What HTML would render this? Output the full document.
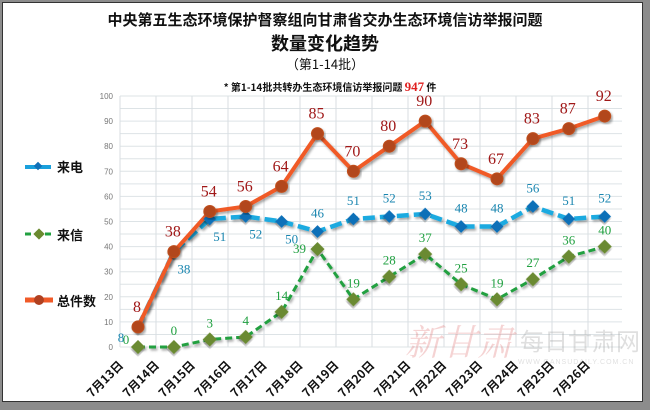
<!DOCTYPE html>
<html><head><meta charset="utf-8"><style>
html,body{margin:0;padding:0;}
body{width:650px;height:410px;background:#8c8c8c;position:relative;overflow:hidden;font-family:"Liberation Sans","Noto Sans CJK SC",sans-serif;}
#panel{position:absolute;left:2px;top:2px;width:641px;height:400px;background:#fff;border:1px solid #333;box-sizing:border-box;}
</style></head><body>
<div id="panel"></div>
<svg id="chart" width="650" height="410" style="position:absolute;left:0;top:0" font-family="Liberation Sans, Noto Sans CJK SC, sans-serif">
<defs><filter id="sh" x="-10%" y="-10%" width="130%" height="130%"><feDropShadow dx="1.5" dy="2" stdDeviation="1.2" flood-color="#000" flood-opacity="0.35"/></filter></defs>
<text x="325" y="25" text-anchor="middle" font-size="15" font-weight="bold" fill="#111" font-family="Noto Sans CJK SC, sans-serif">中央第五生态环境保护督察组向甘肃省交办生态环境信访举报问题</text>
<text x="325" y="50" text-anchor="middle" font-size="18" font-weight="bold" fill="#111" font-family="Noto Sans CJK SC, sans-serif">数量变化趋势</text>
<text x="325" y="69" text-anchor="middle" font-size="13" fill="#111" font-family="Noto Sans CJK SC, sans-serif">（第1-14批）</text>
<text x="330" y="91" text-anchor="middle" font-size="10" font-weight="bold" fill="#111" font-family="Noto Sans CJK SC, sans-serif">* 第1-14批共转办生态环境信访举报问题 <tspan fill="#e02020" font-size="13" font-family="Liberation Serif, serif">947</tspan> 件</text>
<g id="grid"></g>
<g id="yaxis"></g>
<g id="xaxis"></g>
<g opacity="0.3">
<text x="405" y="355" font-size="36" fill="#e07070" font-family="Noto Serif CJK SC, serif" font-style="italic">新甘肃</text>
<text x="520" y="350" font-size="24" fill="#999" font-family="Noto Sans CJK SC, sans-serif">每日甘肃网</text>
<text x="518" y="364" font-size="7" fill="#999" letter-spacing="1">WWW.GANSUDAILY.COM.CN</text>
</g>
<g id="series"></g>
<g>
<g>
<line x1="25" y1="167" x2="51" y2="167" stroke="#1aa0dc" stroke-width="4"/>
<rect x="35" y="163" width="6" height="6" fill="#1070b8" transform="rotate(45 38 166)"/>
<text x="57" y="172" font-size="13" font-weight="bold" fill="#111" font-family="Noto Sans CJK SC, sans-serif">来电</text></g>
<g>
<line x1="25" y1="234" x2="53" y2="234" stroke="#22a040" stroke-width="3" stroke-dasharray="6,4"/>
<rect x="35" y="230" width="8" height="8" fill="#6b8a30" transform="rotate(45 39 234)"/>
<text x="57" y="240" font-size="13" font-weight="bold" fill="#111" font-family="Noto Sans CJK SC, sans-serif">来信</text></g>
<g>
<line x1="25" y1="300" x2="53" y2="300" stroke="#f05a28" stroke-width="5"/>
<circle cx="39" cy="300" r="5" fill="#b04020"/>
<text x="57" y="306" font-size="13" font-weight="bold" fill="#111" font-family="Noto Sans CJK SC, sans-serif">总件数</text></g>
</g>
</svg>
<script>
const categories=["7月13日","7月14日","7月15日","7月16日","7月17日","7月18日","7月19日","7月20日","7月21日","7月22日","7月23日","7月24日","7月25日","7月26日"];
const totalValues=[8,38,54,56,64,85,70,80,90,73,67,83,87,92];
const callValues=[8,38,51,52,50,46,51,52,53,48,48,56,51,52];
const letterValues=[0,0,3,4,14,39,19,28,37,25,19,27,36,40];
const yTicks=[0,10,20,30,40,50,60,70,80,90,100];
const NS="http://www.w3.org/2000/svg";
const x0=138,dx=35.9,yBase=347,yTop=96,yMax=100;
const xs=i=>x0+dx*i;
const ys=v=>yBase-(yBase-yTop)*v/yMax;
function mk(tag,attrs,parent){const e=document.createElementNS(NS,tag);for(const k in attrs)e.setAttribute(k,attrs[k]);parent.appendChild(e);return e;}
const grid=document.getElementById('grid'),yaxis=document.getElementById('yaxis'),xaxis=document.getElementById('xaxis'),series=document.getElementById('series');
const gl=120,gr=622;
mk('rect',{x:gl,y:yTop,width:gr-gl,height:yBase-yTop,fill:'#fff'},grid);
for(let v=0;v<=100;v+=5){const l=mk('line',{x1:gl,x2:gr,y1:ys(v),y2:ys(v),stroke:'#dde3e6','stroke-width':1},grid);

}
for(let i=0;i<=14;i++){const x=gl+36*i;if(x>gr)break;const l=mk('line',{x1:x,x2:x,y1:yTop,y2:yBase,stroke:'#d8dee2','stroke-width':1},grid);

}
yTicks.forEach(v=>{const t=mk('text',{x:113,y:ys(v)+3,'text-anchor':'end','font-size':8,fill:'#777'},yaxis);t.textContent=v;

});
categories.forEach((c,i)=>{const x=xs(i)-14,y=366;const t=mk('text',{x:x,y:y,'text-anchor':'end','font-size':12,'font-weight':'bold',fill:'#111','font-family':'Noto Sans CJK SC, sans-serif',transform:`rotate(-45 ${x} ${y})`},xaxis);t.textContent=c;

});
function pts(vals){return vals.map((v,i)=>xs(i)+','+ys(v)).join(' ');}
const lp=mk('polyline',{points:pts(letterValues),fill:'none',stroke:'#22a040','stroke-width':3,'stroke-dasharray':'7,4',filter:'url(#sh)'},series);


const cp=mk('polyline',{points:pts(callValues),fill:'none',stroke:'#1aaae0','stroke-width':4.5,'stroke-dasharray':'12,5',filter:'url(#sh)'},series);


const tp=mk('polyline',{points:pts(totalValues),fill:'none',stroke:'#f05a28','stroke-width':4,filter:'url(#sh)'},series);


letterValues.forEach((v,i)=>{const x=xs(i),y=ys(v);const m=mk('rect',{x:x-5,y:y-5,width:10,height:10,fill:'#6b8a30',transform:`rotate(45 ${x} ${y})`,filter:'url(#sh)'},series);


let lx=x,ly=y-12;if(i===0){lx=x-12;ly=y-3;}if(i===5){lx=x-18;ly=y+4;}
const t=mk('text',{x:lx,y:ly,'text-anchor':'middle','font-size':13,fill:'#20a040','font-family':'Liberation Serif, serif'},series);t.textContent=v;

});
callValues.forEach((v,i)=>{const x=xs(i),y=ys(v);const m=mk('rect',{x:x-4.5,y:y-4.5,width:9,height:9,fill:'#1070b8',transform:`rotate(45 ${x} ${y})`,filter:'url(#sh)'},series);


let lx=x,ly=y-14;if(i<5){lx=x+10;ly=y+22;}if(i===0){lx=x-17;ly=y+15;}
const t=mk('text',{x:lx,y:ly,'text-anchor':'middle','font-size':13,fill:'#1a86b0','font-family':'Liberation Serif, serif'},series);t.textContent=v;

});
totalValues.forEach((v,i)=>{const x=xs(i),y=ys(v);const m=mk('circle',{cx:x,cy:y,r:6,fill:'#b2461e',stroke:'#c0501e','stroke-width':1,filter:'url(#sh)'},series);


const t=mk('text',{x:x-1,y:y-15,'text-anchor':'middle','font-size':16,fill:'#a01818','font-family':'Liberation Serif, serif'},series);t.textContent=v;

});
</script>
</body></html>
